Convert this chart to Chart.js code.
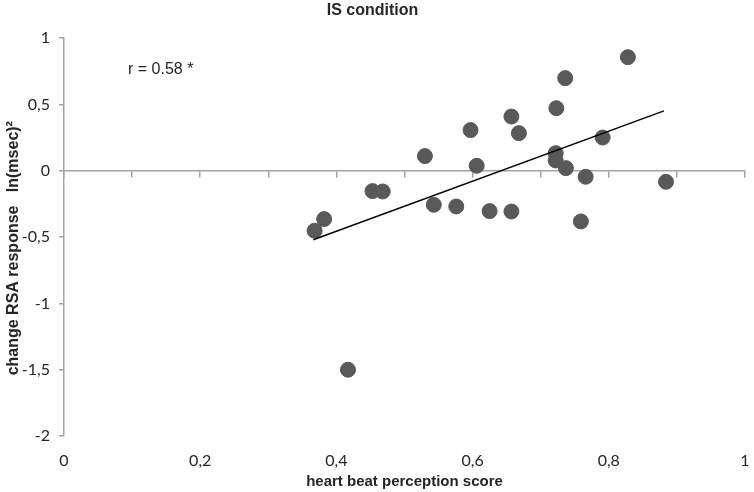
<!DOCTYPE html>
<html>
<head>
<meta charset="utf-8">
<script src="https://cdn.jsdelivr.net/npm/chart.js@4.4.1/dist/chart.umd.min.js"></script>
<style>
  html, body { margin: 0; padding: 0; background: #fff; overflow: hidden; }
  #wrap { width: 754px; height: 492px; position: relative; }
</style>
</head>
<body>
<div id="wrap"><canvas id="myChart"></canvas></div>
<script>
// heart beat perception score (x) vs change in RSA (y), IS condition
const hbpScore = [0.368, 0.382, 0.417, 0.453, 0.468, 0.530, 0.543, 0.576, 0.597, 0.606, 0.625, 0.657,
                  0.657, 0.668, 0.723, 0.722, 0.722, 0.736, 0.737, 0.759, 0.766, 0.791, 0.828, 0.884];
const rsaChange = [-0.452, -0.364, -1.50, -0.153, -0.156, 0.111, -0.256, -0.269, 0.307, 0.038, -0.304, 0.409,
                   -0.307, 0.284, 0.472, 0.133, 0.078, 0.699, 0.020, -0.382, -0.045, 0.251, 0.857, -0.083];

// regression line end points
const fitX = [0.366, 0.881];
const fitY = [-0.52, 0.452];

const rText = 'r = 0.58 *';
const rAt = [0.094, 0.76];

const fmt = v => String(Math.round(v * 10) / 10).replace('.', ',');
const axisGrey = '#a3a3a3';
const textCol = '#262626';
const arial = '"Liberation Sans", Arial, sans-serif';

const rLabel = {
    id: 'rLabel',
    afterDatasetsDraw(chart) {
        const {ctx, scales} = chart;
        ctx.save();
        ctx.font = '16px ' + arial;
        ctx.fillStyle = textCol;
        ctx.textBaseline = 'middle';
        ctx.fillText(rText, scales.x.getPixelForValue(rAt[0]), scales.y.getPixelForValue(rAt[1]));
        ctx.restore();
    }
};

const ctx = document.getElementById('myChart').getContext('2d');
const myChart = new Chart(ctx, {
    type: 'scatter',
    data: {
        datasets: [{
            type: 'line',
            data: fitX.map((x, i) => ({x: x, y: fitY[i]})),
            borderColor: '#000',
            borderWidth: 1.5,
            pointRadius: 0,
            fill: false
        }, {
            data: hbpScore.map((x, i) => ({x: x, y: rsaChange[i]})),
            backgroundColor: '#595959',
            borderColor: '#595959',
            pointRadius: 7.5,
            pointHoverRadius: 7.5
        }]
    },
    options: {
        responsive: true,
        maintainAspectRatio: false,
        animation: false,
        layout: { autoPadding: false, padding: { left: 0, right: 9, top: 0, bottom: 0 } },
        scales: {
            x: {
                type: 'linear',
                min: 0, max: 1,
                position: { y: 0 },
                ticks: { display: false, stepSize: 0.1 },
                grid: { drawOnChartArea: false, drawTicks: true, tickLength: 6, color: axisGrey, lineWidth: 1.5 },
                border: { display: true, color: axisGrey, width: 1.5 }
            },
            x2: {
                type: 'linear',
                min: 0, max: 1,
                position: 'bottom',
                ticks: {
                    stepSize: 0.2,
                    padding: 2,
                    color: textCol,
                    font: { family: 'Lato', size: 16 },
                    callback: v => fmt(v)
                },
                grid: { display: false, drawTicks: true, tickLength: 13 },
                border: { display: false },
                title: {
                    display: true,
                    text: 'heart beat perception score',
                    color: textCol,
                    padding: { top: 0, bottom: 1 },
                    font: { family: arial, size: 15, weight: 'bold' }
                },
                afterFit: s => { s.height = 56; }
            },
            y: {
                type: 'linear',
                min: -2, max: 1,
                ticks: {
                    stepSize: 0.5,
                    padding: 9,
                    color: textCol,
                    font: { family: 'Lato', size: 16 },
                    callback: v => fmt(v)
                },
                grid: { drawOnChartArea: false, drawTicks: true, tickLength: 5, color: axisGrey, lineWidth: 1.5 },
                border: { display: true, color: axisGrey, width: 1.5 },
                title: {
                    display: true,
                    text: 'change RSA response   ln(msec)²     ',
                    color: textCol,
                    padding: { top: 4, bottom: 4 },
                    font: { family: arial, size: 16, weight: 'bold' }
                },
                afterFit: s => { s.width = 64; }
            }
        },
        plugins: {
            legend: { display: false },
            tooltip: { enabled: false },
            title: {
                display: true,
                text: 'IS condition',
                color: textCol,
                padding: { top: 1, bottom: 18 },
                font: { family: arial, size: 16, weight: 'bold' }
            }
        }
    },
    plugins: [rLabel]
});
</script>
</body>
</html>
